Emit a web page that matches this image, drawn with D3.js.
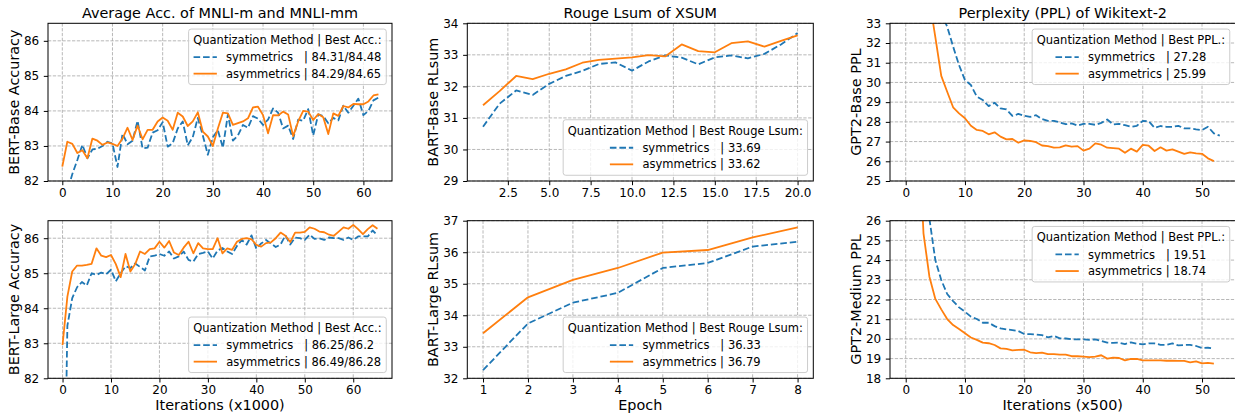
<!DOCTYPE html>
<html>
<head>
<meta charset="utf-8">
<script src="https://cdn.jsdelivr.net/npm/d3@7"></script>
<style>
body { margin: 0; background: #fff; }
svg text { font-family: "DejaVu Sans", sans-serif; fill: #000; }
</style>
</head>
<body>
<svg id="fig" width="1235" height="415"></svg>
<script>
// BERT-Base, MNLI avg acc, x = iteration (x1000) starting at 0
var bertBaseSym = [81.0, 81.7, 82.2, 82.6, 83.03, 82.65, 82.9, 82.92, 83.0, 83.12,
    83.07, 82.4, 83.35, 83.05, 83.15, 83.72, 82.93, 82.95, 83.38, 83.45,
    83.68, 82.98, 83.08, 83.5, 83.7, 83.02, 83.25, 83.8, 83.3, 82.75,
    83.25, 83.45, 82.95, 83.9, 83.15, 83.3, 83.6, 83.52, 83.85, 83.78,
    83.6, 83.75, 84.07, 83.95, 83.5, 83.58, 83.2, 83.75, 83.72, 84.05,
    83.3, 83.9, 83.85, 83.65, 83.8, 83.73, 84.15, 83.95, 84.15, 84.35,
    83.88, 84.0, 84.3, 84.38];
var bertBaseAsym = [82.41, 83.12, 83.06, 82.8, 82.88, 82.65, 83.21, 83.15, 83.03, 83.1,
    83.06, 83.0, 83.21, 83.52, 83.17, 83.58, 83.19, 83.46, 83.46, 83.7,
    83.81, 83.72, 83.46, 83.95, 83.84, 83.57, 83.7, 83.96, 83.41, 83.27,
    83.0, 83.5, 83.95, 83.93, 83.6, 83.65, 83.7, 83.79, 84.1, 84.12,
    83.88, 83.36, 83.88, 83.87, 83.98, 83.9, 83.28, 83.7, 84.0, 83.98,
    83.74, 83.91, 83.82, 83.34, 83.93, 83.86, 84.14, 84.1, 84.2, 84.19,
    84.19, 84.27, 84.44, 84.47];

// BERT-Large
var bertLargeSym = [75.0, 83.5, 84.29, 84.6, 84.75, 84.65, 85.0, 84.95, 85.02, 84.97,
    85.1, 84.77, 85.0, 85.2, 85.15, 85.28, 85.18, 85.08, 85.48, 85.5,
    85.55, 85.5, 85.62, 85.42, 85.48, 85.62, 85.38, 85.33, 85.55, 85.58,
    85.62, 85.42, 85.65, 85.72, 85.62, 85.55, 85.78, 85.95, 85.82, 86.08,
    85.7, 85.85, 85.95, 85.85, 85.75, 85.82, 86.08, 85.82, 86.02, 86.0,
    85.95, 86.1, 85.98, 86.0, 85.95, 86.02, 86.0, 86.0, 85.95, 86.02,
    85.95, 86.05, 86.05, 86.05, 86.22, 86.08];
var bertLargeAsym = [82.95, 84.33, 85.05, 85.22, 85.22, 85.24, 85.27, 85.71, 85.5, 85.46,
    85.52, 85.26, 84.89, 85.55, 85.05, 85.26, 85.62, 85.55, 85.69, 85.71,
    85.9, 85.73, 85.92, 85.59, 85.52, 85.73, 85.9, 85.57, 85.86, 85.71,
    85.69, 85.69, 86.0, 85.57, 85.71, 85.67, 85.9, 85.98, 86.0, 85.97,
    85.81, 85.76, 85.86, 85.88, 86.0, 86.16, 86.07, 85.89, 86.16, 86.16,
    86.18, 86.31, 86.27, 86.19, 86.17, 86.1, 86.07, 86.19, 86.31, 86.27,
    86.38, 86.26, 86.12, 86.26, 86.37, 86.27];

// BART, x = epoch starting at 1
var bartBaseSym = [30.72, 31.45, 31.87, 31.73, 32.08, 32.33, 32.49, 32.71, 32.76, 32.5,
    32.79, 32.98, 32.91, 32.7, 32.92, 32.98, 32.89, 33.03, 33.33, 33.69];
var bartBaseAsym = [31.4, 31.85, 32.33, 32.23, 32.4, 32.54, 32.75, 32.84, 32.88, 32.92,
    32.99, 32.95, 33.33, 33.12, 33.08, 33.37, 33.43, 33.26, 33.44, 33.62];
var bartLargeSym = [32.26, 33.74, 34.4, 34.71, 35.5, 35.66, 36.18, 36.33];
var bartLargeAsym = [33.43, 34.57, 35.12, 35.5, 35.99, 36.07, 36.47, 36.79];

// GPT2 perplexity, x = iteration (x500); early points are above the axis
var gpt2BaseSymStart = 5;
var gpt2BaseSym = [36.0, 33.5, 32.83, 31.82, 30.88, 30.12, 29.87, 29.28, 29.11, 28.8,
    28.97, 28.68, 28.63, 28.3, 28.4, 28.31, 28.25, 28.34, 28.14, 28.05,
    28.05, 27.97, 27.88, 27.92, 27.81, 27.9, 27.9, 27.85, 27.95, 28.12,
    27.87, 27.9, 27.83, 27.75, 27.8, 28.05, 28.03, 27.7, 27.79, 27.75,
    27.75, 27.8, 27.67, 27.67, 27.62, 27.58, 27.75, 27.42, 27.3];
var gpt2BaseAsymStart = 3;
var gpt2BaseAsym = [38.0, 34.2, 32.3, 30.33, 29.53, 28.74, 28.43, 28.18, 27.8, 27.59,
    27.54, 27.37, 27.47, 27.25, 27.11, 27.13, 26.94, 27.06, 27.03, 26.97,
    26.8, 26.77, 26.69, 26.71, 26.81, 26.74, 26.77, 26.54, 26.64, 26.91,
    26.84, 26.69, 26.67, 26.64, 26.43, 26.64, 26.49, 26.83, 26.79, 26.52,
    26.71, 26.54, 26.6, 26.49, 26.38, 26.45, 26.4, 26.38, 26.15, 26.01];
var gpt2MedSymStart = 3;
var gpt2MedSym = [28.5, 26.1, 24.0, 22.99, 22.28, 21.92, 21.6, 21.38, 21.13, 21.01,
    20.82, 20.82, 20.65, 20.53, 20.48, 20.45, 20.4, 20.25, 20.24, 20.22,
    20.19, 20.08, 20.15, 20.03, 20.02, 19.98, 19.98, 19.98, 19.95, 19.98,
    19.9, 19.81, 19.8, 19.81, 19.74, 19.82, 19.76, 19.72, 19.77, 19.77,
    19.7, 19.7, 19.77, 19.67, 19.69, 19.7, 19.64, 19.54, 19.55, 19.52];
var gpt2MedAsymStart = 2;
var gpt2MedAsym = [31.8, 25.36, 23.16, 22.03, 21.5, 21.01, 20.7, 20.5, 20.29, 20.07,
    19.95, 19.81, 19.78, 19.69, 19.52, 19.49, 19.42, 19.44, 19.45, 19.32,
    19.28, 19.3, 19.23, 19.23, 19.2, 19.2, 19.12, 19.12, 19.1, 19.07,
    19.1, 19.17, 19.0, 19.05, 19.03, 18.91, 18.98, 18.98, 18.91, 18.91,
    18.91, 18.91, 18.89, 18.89, 18.88, 18.88, 18.81, 18.86, 18.76, 18.78, 18.74];

// tick labels
var iterTicks = [0, 10, 20, 30, 40, 50, 60];
var pplXTicks = [0, 10, 20, 30, 40, 50];
var bartBaseXTicks = [2.5, 5.0, 7.5, 10.0, 12.5, 15.0, 17.5, 20.0];
var epochTicks = [1, 2, 3, 4, 5, 6, 7, 8];

var legendTitles = ["Quantization Method | Best Acc.:", "Quantization Method | Best Rouge Lsum:", "Quantization Method | Best PPL.:"];
var symLabels = ["symmetrics   | 84.31/84.48", "symmetrics   | 86.25/86.2", "symmetrics   | 33.69", "symmetrics   | 36.33", "symmetrics   | 27.28", "symmetrics   | 19.51"];
var asymLabels = ["asymmetrics | 84.29/84.65", "asymmetrics | 86.49/86.28", "asymmetrics | 33.62", "asymmetrics | 36.79", "asymmetrics | 25.99", "asymmetrics | 18.74"];

var BLUE = "#1f77b4", ORANGE = "#ff7f0e";
var fmtInt = d3.format("d"), fmt1 = d3.format(".1f");

function pts(values, start) {
    return values.map(function (v, i) { return [start + i, v]; });
}

var panels = [
    { left: 48, top: 23.3, w: 344, h: 157.7, xd: [-2.85, 65.7], yd: [82, 86.5],
      xt: iterTicks, yt: [82, 83, 84, 85, 86], xf: fmtInt, title: "Average Acc. of MNLI-m and MNLI-mm",
      ylab: "BERT-Base Accuracy", sym: pts(bertBaseSym, 0), asym: pts(bertBaseAsym, 0), leg: 0, legPos: "top" },
    { left: 48, top: 220.7, w: 344, h: 157.6, xd: [-3.0, 68.0], yd: [82, 86.5],
      xt: iterTicks, yt: [82, 83, 84, 85, 86], xf: fmtInt, xlab: "Iterations (x1000)",
      ylab: "BERT-Large Accuracy", sym: pts(bertLargeSym, 0), asym: pts(bertLargeAsym, 0), leg: 0, legPos: "bottom" },
    { left: 467.3, top: 23.3, w: 346, h: 157.7, xd: [0.05, 20.95], yd: [29, 34],
      xt: bartBaseXTicks, yt: [29, 30, 31, 32, 33, 34], xf: fmt1, title: "Rouge Lsum of XSUM",
      ylab: "BART-Base RLsum", sym: pts(bartBaseSym, 1), asym: pts(bartBaseAsym, 1), leg: 1, legPos: "bottom" },
    { left: 467.3, top: 220.7, w: 346, h: 157.6, xd: [0.65, 8.35], yd: [32, 37],
      xt: epochTicks, yt: [32, 33, 34, 35, 36, 37], xf: fmtInt, xlab: "Epoch",
      ylab: "BART-Large RLsum", sym: pts(bartLargeSym, 1), asym: pts(bartLargeAsym, 1), leg: 1, legPos: "bottom" },
    { left: 890, top: 23.3, w: 345.5, h: 157.7, xd: [-2.65, 55.65], yd: [25, 33],
      xt: pplXTicks, yt: [25, 26, 27, 28, 29, 30, 31, 32, 33], xf: fmtInt, title: "Perplexity (PPL) of Wikitext-2",
      ylab: "GPT2-Base PPL", sym: pts(gpt2BaseSym, gpt2BaseSymStart), asym: pts(gpt2BaseAsym, gpt2BaseAsymStart), leg: 2, legPos: "top" },
    { left: 890, top: 220.7, w: 345.5, h: 157.6, xd: [-2.65, 55.65], yd: [18, 26],
      xt: pplXTicks, yt: [18, 19, 20, 21, 22, 23, 24, 25, 26], xf: fmtInt, xlab: "Iterations (x500)",
      ylab: "GPT2-Medium PPL", sym: pts(gpt2MedSym, gpt2MedSymStart), asym: pts(gpt2MedAsym, gpt2MedAsymStart), leg: 2, legPos: "top" }
];

var svg = d3.select("#fig");
var defs = svg.append("defs");

panels.forEach(function (p, k) { drawPanel(p, k); });

function drawPanel(p, k) {
    var g = svg.append("g").attr("transform", "translate(" + p.left + "," + p.top + ")");
    var x = d3.scaleLinear().domain(p.xd).range([0, p.w]);
    var y = d3.scaleLinear().domain(p.yd).range([p.h, 0]);

    defs.append("clipPath").attr("id", "clip" + k)
        .append("rect").attr("width", p.w).attr("height", p.h);

    // grid
    var grid = g.append("g").attr("stroke", "#b0b0b0").attr("stroke-width", 0.9)
        .attr("stroke-dasharray", "3.3,1.5");
    grid.selectAll("line.vx").data(p.xt).enter().append("line")
        .attr("x1", function (d) { return x(d); }).attr("x2", function (d) { return x(d); })
        .attr("y1", 0).attr("y2", p.h);
    grid.selectAll("line.hy").data(p.yt).enter().append("line")
        .attr("y1", function (d) { return y(d); }).attr("y2", function (d) { return y(d); })
        .attr("x1", 0).attr("x2", p.w);

    // lines
    var line = d3.line().x(function (d) { return x(d[0]); }).y(function (d) { return y(d[1]); });
    var lines = g.append("g").attr("clip-path", "url(#clip" + k + ")").attr("fill", "none")
        .attr("stroke-width", 1.8).attr("stroke-linejoin", "round");
    lines.append("path").datum(p.sym).attr("d", line).attr("stroke", BLUE)
        .attr("stroke-dasharray", "6.6,2.9");
    lines.append("path").datum(p.asym).attr("d", line).attr("stroke", ORANGE);

    // axes
    var xAxis = g.append("g").attr("transform", "translate(0," + p.h + ")")
        .call(d3.axisBottom(x).tickValues(p.xt).tickFormat(p.xf).tickSize(4.2).tickSizeOuter(0).tickPadding(3.4));
    var yAxis = g.append("g")
        .call(d3.axisLeft(y).tickValues(p.yt).tickFormat(fmtInt).tickSize(4.2).tickSizeOuter(0).tickPadding(4.6));
    [xAxis, yAxis].forEach(function (a) {
        a.select(".domain").remove();
        a.attr("font-family", null).attr("font-size", null);
        a.selectAll("text").style("font-size", "12px").attr("fill", "#000");
        a.selectAll("line").attr("stroke", "#000").attr("stroke-width", 1);
    });

    // spines
    g.append("rect").attr("width", p.w).attr("height", p.h)
        .attr("fill", "none").attr("stroke", "#000").attr("stroke-width", 1);

    if (p.title) {
        g.append("text").attr("x", p.w / 2).attr("y", 18.3 - p.top)
            .attr("text-anchor", "middle").style("font-size", "14.4px").text(p.title);
    }
    if (p.xlab) {
        g.append("text").attr("x", p.w / 2).attr("y", 410.5 - p.top)
            .attr("text-anchor", "middle").style("font-size", "14.4px").text(p.xlab);
    }
    g.append("text").attr("transform", "translate(-29," + (p.h / 2) + ") rotate(-90)")
        .attr("text-anchor", "middle").style("font-size", "14.4px").text(p.ylab);

    drawLegend(g, p, k);
}

function drawLegend(g, p, k) {
    var fs = 11.5, pad = 4.6, handleLen = 23.3, textPad = 9.2, boxH = 55.5, inset = 5.75;
    var lg = g.append("g");
    var box = lg.append("rect").attr("rx", 2.5).attr("ry", 2.5)
        .attr("fill", "#fff").attr("fill-opacity", 0.8)
        .attr("stroke", "#cccccc").attr("stroke-width", 1);
    var title = lg.append("text").style("font-size", fs + "px").attr("text-anchor", "middle")
        .text(legendTitles[p.leg]);
    var labels = [symLabels[k], asymLabels[k]];
    var texts = labels.map(function (t) {
        return lg.append("text").style("font-size", fs + "px").style("white-space", "pre").text(t);
    });
    var titleW = title.node().getComputedTextLength();
    var labelW = d3.max(texts, function (t) { return t.node().getComputedTextLength(); });
    var blockW = handleLen + textPad + labelW;
    var boxW = Math.max(titleW, blockW) + 2 * pad;
    var bx = p.w - inset - boxW;
    var by = p.legPos === "top" ? inset : p.h - inset - boxH;
    box.attr("x", bx).attr("y", by).attr("width", boxW).attr("height", boxH);
    var cx = bx + boxW / 2;
    title.attr("x", cx).attr("y", by + 15);
    var hx = cx - blockW / 2;
    var rowY = [by + 28, by + 44.6];
    var styles = [{ c: BLUE, dash: "6.6,2.9" }, { c: ORANGE, dash: null }];
    texts.forEach(function (t, i) {
        lg.append("line").attr("x1", hx).attr("x2", hx + handleLen)
            .attr("y1", rowY[i]).attr("y2", rowY[i])
            .attr("stroke", styles[i].c).attr("stroke-width", 1.8)
            .attr("stroke-dasharray", styles[i].dash);
        t.attr("x", hx + handleLen + textPad).attr("y", rowY[i] + 4.1);
    });
}
</script>
</body>
</html>
